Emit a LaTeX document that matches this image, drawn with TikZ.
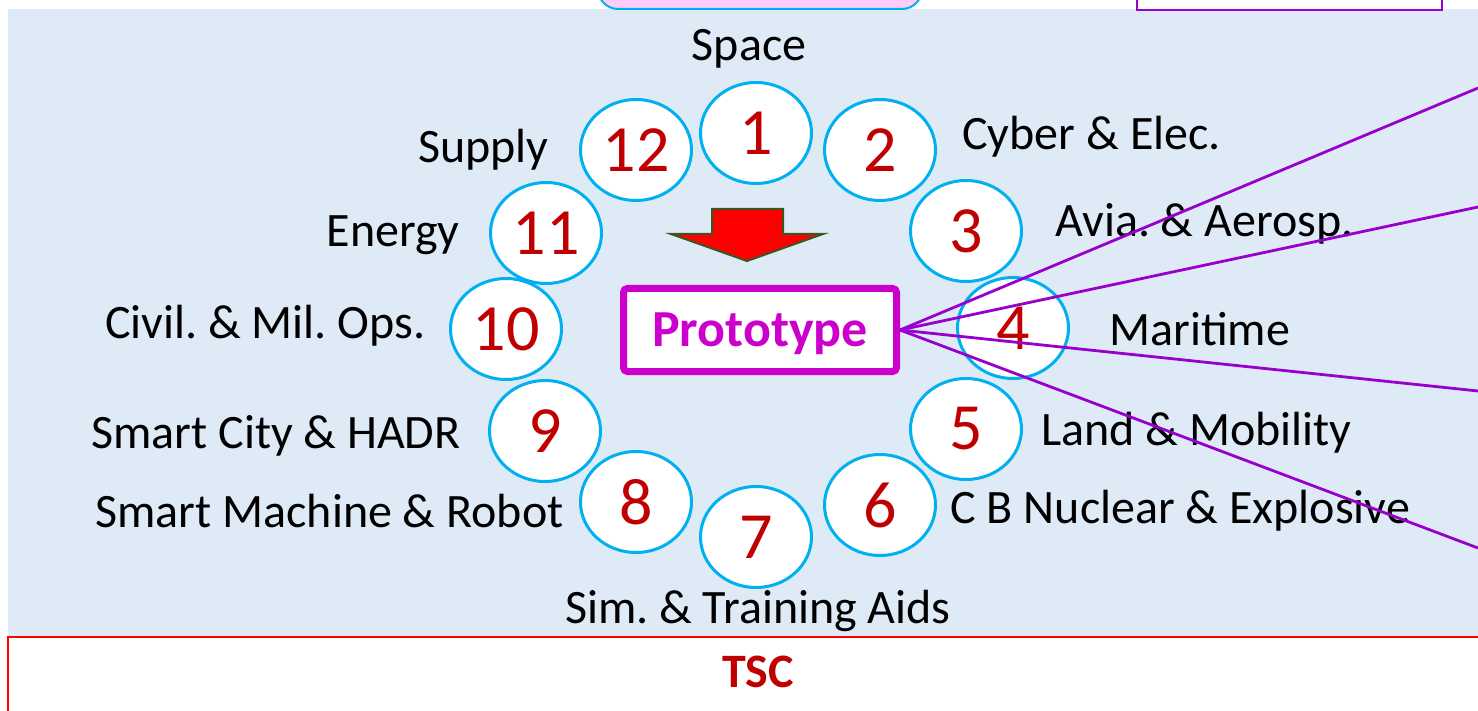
\documentclass[tikz,border=0pt]{standalone}
\usepackage{fontspec}
\setmainfont{Carlito}
\usetikzlibrary{shapes.geometric}
\frenchspacing

\definecolor{bgblue}{HTML}{DEEBF7}
\definecolor{ringcyan}{HTML}{00B0F0}
\definecolor{numred}{HTML}{C00000}
\definecolor{protomag}{HTML}{CC00CC}
\definecolor{linkpurple}{HTML}{9900CC}
\definecolor{arrowgreen}{HTML}{385723}
\definecolor{boxpink}{HTML}{FFCCFF}

\begin{document}
\begin{tikzpicture}[x=0.5pt,y=-0.5pt,
    area/.style={ellipse,draw=ringcyan,line width=1.5pt,fill=white,
        minimum width=55.5pt,minimum height=50.5pt,inner sep=0pt,
        text=numred,font=\fontsize{33}{36}\selectfont},
    lbl/.style={inner sep=0pt,font=\fontsize{24}{27}\selectfont},
    link/.style={draw=linkpurple,line width=1.4pt}
]
    \useasboundingbox (0,0) rectangle (1478,711);
    % panels cut by the edge
    \fill[bgblue] (8,9) rectangle (1490,636);
    \draw[ringcyan,line width=1pt,fill=boxpink,rounded corners=10pt] (598,-60) rectangle (922,9);
    \draw[linkpurple,line width=1pt,fill=white] (1137,-60) rectangle (1442,10);
    \draw[red,line width=1.2pt,fill=white] (8,637) rectangle (1500,760);

    % the twelve areas
    \foreach \n/\cx/\cy in {1/756/133,2/880/150,3/966/231,4/1013/328,5/966/429,6/880/505,
        7/756/537,8/636/502,9/545/431,10/506/329,11/546/233,12/636/150}
        \node[area] (c\n) at (\cx,\cy) {\n};

    \node[lbl,anchor=base] (space) at (749,61) {Space};
    \node[lbl,anchor=base west] (cyber) at (962,150) {Cyber \& Elec.};
    \node[lbl,anchor=base west] (avia) at (1055,237) {Avia. \& Aerosp.};
    \node[lbl,anchor=base west] (mari) at (1109,345) {Maritime};
    \node[lbl,anchor=base west] (land) at (1041,445) {Land \& Mobility};
    \node[lbl,anchor=base west] (cbne) at (950,523) {C B Nuclear \& Explosive};
    \node[lbl,anchor=base] (sim) at (758,623) {Sim. \& Training Aids};
    \node[lbl,anchor=base east] (robot) at (564,527) {Smart Machine \& Robot};
    \node[lbl,anchor=base east] (city) at (461,448) {Smart City \& HADR};
    \node[lbl,anchor=base east] (civil) at (426,338) {Civil. \& Mil. Ops.};
    \node[lbl,anchor=base east] (energy) at (460,247) {Energy};
    \node[lbl,anchor=base east] (supply) at (549,163) {Supply};

    % arrow down to the prototype
    \draw[arrowgreen,line width=1pt,fill=red] (712,209) -- (783,209) -- (783,234) -- (823,234)
        -- (747,261) -- (671,234) -- (712,234) -- cycle;

    \node[draw=protomag,line width=3.5pt,fill=white,rounded corners=2pt,
        minimum width=136.5pt,minimum height=41.5pt,inner sep=0pt,
        text height=17pt,text depth=0pt,
        text=protomag,font=\bfseries\fontsize{26}{30}\selectfont] (proto) at (760,330) {Prototype};

    \foreach \k/\ry in {1/88,2/207,3/391,4/548}{
        \coordinate (r\k) at (1478,\ry);
        \draw[link] (proto.east) -- (r\k);
    }

    \node[text=numred,inner sep=0pt,font=\bfseries\fontsize{24}{27}\selectfont,anchor=base] (tsc) at (758,687) {TSC};
\end{tikzpicture}
\end{document}
